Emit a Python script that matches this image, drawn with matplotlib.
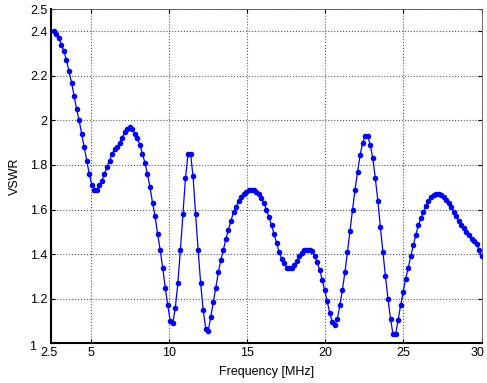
import matplotlib
matplotlib.use("Agg")
import matplotlib.pyplot as plt
import matplotlib.transforms as mtransforms
import numpy as np

vswr = [
    2.40, 2.39, 2.37, 2.34, 2.31, 2.27, 2.22, 2.17, 2.11, 2.05,
    2.00, 1.94, 1.88, 1.82, 1.76, 1.71, 1.69, 1.69, 1.71, 1.73,
    1.76, 1.79, 1.82, 1.85, 1.87, 1.88, 1.90, 1.92, 1.95, 1.96,
    1.97, 1.96, 1.94, 1.92, 1.89, 1.85, 1.81, 1.76, 1.70, 1.63,
    1.57, 1.49, 1.42, 1.34, 1.25, 1.17, 1.10, 1.09, 1.16, 1.27,
    1.42, 1.58, 1.74, 1.85, 1.85, 1.75, 1.58, 1.42, 1.27, 1.15,
    1.066, 1.055, 1.12, 1.185, 1.25, 1.32, 1.375, 1.42, 1.47, 1.51,
    1.55, 1.59, 1.61, 1.64, 1.655, 1.67, 1.68, 1.69, 1.69, 1.69,
    1.68, 1.67, 1.65, 1.63, 1.60, 1.565, 1.53, 1.49, 1.45, 1.41,
    1.38, 1.36, 1.34, 1.34, 1.34, 1.35, 1.37, 1.39, 1.405, 1.42,
    1.42, 1.42, 1.415, 1.39, 1.365, 1.33, 1.286, 1.237, 1.188, 1.136,
    1.095, 1.08, 1.11, 1.17, 1.24, 1.32, 1.41, 1.505, 1.60, 1.69,
    1.77, 1.845, 1.90, 1.93, 1.93, 1.89, 1.83, 1.74, 1.64, 1.52,
    1.41, 1.30, 1.20, 1.11, 1.04, 1.04, 1.106, 1.17, 1.23, 1.29,
    1.34, 1.39, 1.44, 1.486, 1.53, 1.56, 1.59, 1.617, 1.64, 1.657,
    1.667, 1.67, 1.67, 1.667, 1.655, 1.645, 1.63, 1.61, 1.59, 1.57,
    1.55, 1.53, 1.516, 1.50, 1.486, 1.47, 1.457, 1.446, 1.42, 1.39,
]
f_start = 2.65   # MHz, first sample
f_stop = 30.0
freq = np.linspace(f_start, f_stop, len(vswr))

x_ticks = [2.5, 5, 10, 15, 20, 25, 30]
x_labels = ["2.5", "5", "10", "15", "20", "25", "30"]
y_ticks = [1, 1.2, 1.4, 1.6, 1.8, 2, 2.2, 2.4, 2.5]
y_labels = ["1", "1.2", "1.4", "1.6", "1.8", "2", "2.2", "2.4", "2.5"]

plt.rcParams['font.family'] = ['Liberation Sans', 'DejaVu Sans']
plt.rcParams['font.size'] = 9

fig = plt.figure(figsize=(4.87, 3.83), dpi=100)
ax = fig.add_axes([0.1057, 0.1037, 0.8833, 0.8728])

ax.plot(freq, vswr, color='blue', linewidth=0.9, marker='o',
        markersize=4, markeredgewidth=0, zorder=3)

ax.set_xlim(2.5, 30)
ax.set_ylim(1, 2.5)
ax.set_xticks(x_ticks)
ax.set_xticklabels(x_labels)
ax.set_yticks(y_ticks)
ax.set_yticklabels(y_labels)

ax.grid(True, linestyle=':', color='0.35', linewidth=0.8)
ax.tick_params(direction='in', length=3, width=0.8, top=True, right=True,
               pad=3, colors='black')

for side in ['left', 'bottom']:
    ax.spines[side].set_linewidth(1.5)
for side in ['top', 'right']:
    ax.spines[side].set_linewidth(0.6)
    ax.spines[side].set_color('0.35')

# corner labels nudged like the original (1 pushed left, 2.5/30 kept inside)
def nudge(label, dx, dy):
    label.set_transform(label.get_transform() +
                        mtransforms.ScaledTranslation(dx / 72, dy / 72, fig.dpi_scale_trans))

fig.canvas.draw()
nudge(ax.get_yticklabels()[0], -8, -1.5)
nudge(ax.get_xticklabels()[0], -2, 0)
nudge(ax.get_xticklabels()[-1], -3, 0)

ax.set_xlabel("Frequency [MHz]", labelpad=5)
ax.set_ylabel("VSWR", labelpad=6)

fig.savefig("out.png", dpi=100)
